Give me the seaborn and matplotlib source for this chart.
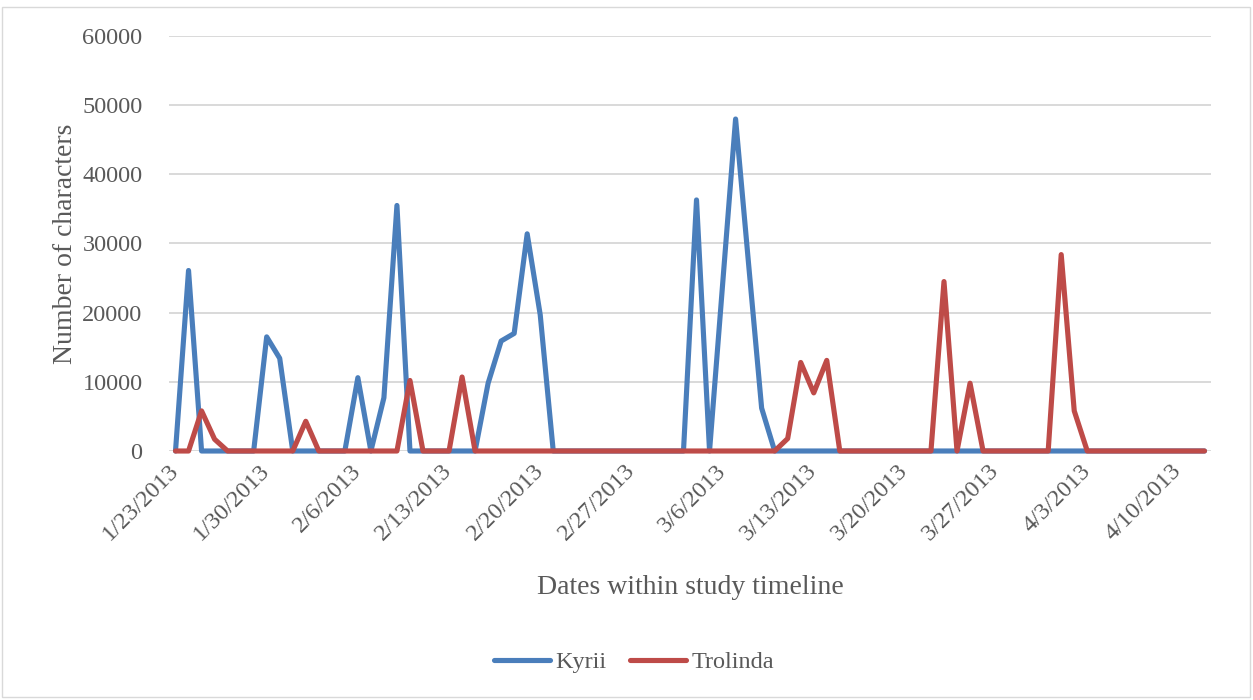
import pandas as pd
import numpy as np
import matplotlib
matplotlib.use('Agg')
import matplotlib.pyplot as plt
from matplotlib.patches import Rectangle
import seaborn as sns

# daily values, 1/23/2013 .. 4/12/2013
start_date = '2013-01-23'
n_days = 80

kyrii = [0, 26100, 0, 0, 0, 0, 0, 16500, 13400, 0,
         0, 0, 0, 0, 10600, 0, 7700, 35500, 0, 0,
         0, 0, 0, 0, 9800, 15900, 17000, 31400, 19700, 0,
         0, 0, 0, 0, 0, 0, 0, 0, 0, 0,
         36300, 0, 24000, 48000, 27000, 6200, 0, 0, 0, 0,
         0, 0, 0, 0, 0, 0, 0, 0, 0, 0,
         0, 0, 0, 0, 0, 0, 0, 0, 0, 0,
         0, 0, 0, 0, 0, 0, 0, 0, 0, 0]

trolinda = [0, 0, 5800, 1700, 0, 0, 0, 0, 0, 0,
            4300, 0, 0, 0, 0, 0, 0, 0, 10200, 0,
            0, 0, 10700, 0, 0, 0, 0, 0, 0, 0,
            0, 0, 0, 0, 0, 0, 0, 0, 0, 0,
            0, 0, 0, 0, 0, 0, 0, 1800, 12800, 8400,
            13100, 0, 0, 0, 0, 0, 0, 0, 0, 24500,
            0, 9800, 0, 0, 0, 0, 0, 0, 28400, 5800,
            0, 0, 0, 0, 0, 0, 0, 0, 0, 0]

y_ticks = [0, 10000, 20000, 30000, 40000, 50000, 60000]

dates = pd.date_range(start_date, periods=n_days, freq='D')
df = pd.DataFrame({'date': dates, 'Kyrii': kyrii, 'Trolinda': trolinda})
long_df = df.melt(id_vars='date', var_name='who', value_name='chars')

sns.set_style('white')
plt.rcParams['font.family'] = ['Liberation Serif', 'DejaVu Serif']
text_col = '#595959'
lw = 3.7

fig = plt.figure(figsize=(12.53, 7), dpi=100)
ax = fig.add_axes([169/1253, 1 - 451/700, 1042/1253, 415/700])

sns.lineplot(data=long_df, x='date', y='chars', hue='who',
             palette={'Kyrii': '#4A7EBB', 'Trolinda': '#BE4B48'},
             linewidth=lw, ax=ax, legend=True)
for ln in ax.get_lines():
    ln.set_solid_capstyle('round')
    ln.set_solid_joinstyle('round')
    ln.set_clip_on(False)

ax.set_ylim(0, 60000)
ax.set_yticks(y_ticks)
ax.set_yticklabels([str(v) for v in y_ticks])
ax.set_xlim(dates[0] - pd.Timedelta(hours=12), dates[-1] + pd.Timedelta(hours=12))
tick_dates = dates[::7]
ax.set_xticks(tick_dates)
ax.set_xticklabels([f'{d.month}/{d.day}/{d.year}' for d in tick_dates],
                   rotation=45, ha='right', va='center', rotation_mode='anchor')

ax.yaxis.grid(True, color='#D9D9D9', linewidth=1.4)
ax.set_axisbelow(True)
for s in ax.spines.values():
    s.set_visible(False)
ax.tick_params(axis='both', length=0, labelsize=17.5, colors=text_col)
ax.tick_params(axis='y', pad=19)
ax.tick_params(axis='x', pad=12)

ax.set_ylabel('Number of characters', fontsize=20, color=text_col)
ax.yaxis.set_label_coords(-0.087, 0.5)
ax.set_xlabel('Dates within study timeline', fontsize=20, color=text_col)
ax.xaxis.set_label_coords(0.5, -0.30)

handles, labels = ax.get_legend_handles_labels()
ax.get_legend().remove()
leg = fig.legend(handles, labels, loc='center', bbox_to_anchor=(634/1253, 1 - 662/700),
                 ncol=2, frameon=False, fontsize=17.5, handlelength=2.3,
                 handletextpad=0.2, columnspacing=1.0)
for t in leg.get_texts():
    t.set_color(text_col)
for h in leg.get_lines():
    h.set_linewidth(lw)
    h.set_solid_capstyle('round')

fig.patches.append(Rectangle((2/1253, 3/700), 1248/1253, 690/700, transform=fig.transFigure,
                             fill=False, edgecolor='#D9D9D9', linewidth=1))

fig.savefig('out.png', dpi=100)
